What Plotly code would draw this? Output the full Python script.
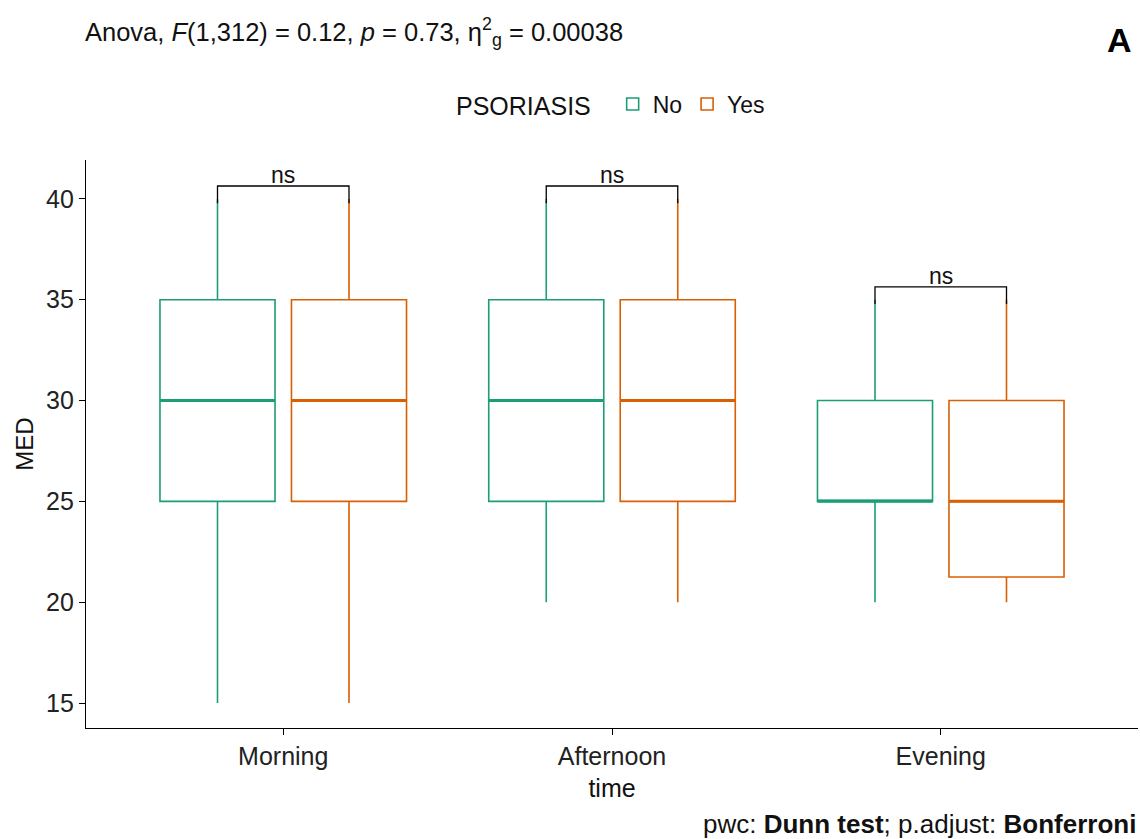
import plotly.graph_objects as go

categories = ["Morning", "Afternoon", "Evening"]
groups = ["No", "Yes"]
colors = {"No": "#1B9E77", "Yes": "#D95F02"}

# box statistics per group, per time
lower = {"No": [15, 20, 20], "Yes": [15, 20, 20]}
q1 = {"No": [25, 25, 25], "Yes": [25, 25, 21.25]}
median = {"No": [30, 30, 25], "Yes": [30, 30, 25]}
q3 = {"No": [35, 35, 30], "Yes": [35, 35, 30]}
upper = {"No": [40, 40, 35], "Yes": [40, 40, 35]}

p_labels = ["ns", "ns", "ns"]

dodge = 0.2
box_w = 0.35
offsets = {"No": -dodge, "Yes": dodge}

FONT = "Liberation Sans, Arial, sans-serif"

fig = go.Figure()
for g in groups:
    xs = [i + 1 + offsets[g] for i in range(len(categories))]
    fig.add_trace(go.Box(
        x=xs, q1=q1[g], median=median[g], q3=q3[g],
        lowerfence=lower[g], upperfence=upper[g],
        width=box_w, whiskerwidth=0,
        name=g, legendgroup=g,
        line=dict(color=colors[g], width=1.6),
        fillcolor="rgba(255,255,255,0)",
        boxpoints=False, hoverinfo="skip",
    ))
    # thicker median segments
    mx, my = [], []
    for x, m in zip(xs, median[g]):
        mx += [x - box_w / 2, x + box_w / 2, None]
        my += [m, m, None]
    fig.add_trace(go.Scatter(x=mx, y=my, mode="lines",
                             line=dict(color=colors[g], width=3),
                             showlegend=False, hoverinfo="skip"))

# significance brackets
step = 0.64
tip = 0.85
bx, by = [], []
for i in range(len(categories)):
    top = max(upper["No"][i], upper["Yes"][i]) + step
    x0 = i + 1 + offsets["No"]
    x1 = i + 1 + offsets["Yes"]
    bx += [x0, x0, x1, x1, None]
    by += [top - tip, top, top, top - tip, None]
    fig.add_annotation(x=i + 1, y=top, text=p_labels[i], showarrow=False,
                       yanchor="bottom", yshift=-4,
                       font=dict(size=23, color="#111", family=FONT))
fig.add_trace(go.Scatter(x=bx, y=by, mode="lines",
                         line=dict(color="black", width=1.3),
                         showlegend=False, hoverinfo="skip"))

fig.update_layout(
    width=1140, height=839,
    margin=dict(l=86, r=2, t=160, b=111),
    paper_bgcolor="white", plot_bgcolor="white",
    font=dict(family=FONT, size=24, color="#111"),
    showlegend=True,
    legend=dict(orientation="h", x=0.5, xanchor="center",
                y=1.0986, yanchor="middle",
                title=dict(text="PSORIASIS  ", font=dict(size=25)),
                font=dict(size=23), itemwidth=30),
    xaxis=dict(range=[0.4, 3.6], tickvals=[1, 2, 3], ticktext=categories,
               showline=True, linecolor="black", linewidth=1.3,
               ticks="outside", ticklen=6, tickcolor="black", tickwidth=1.3,
               showgrid=False, zeroline=False,
               tickfont=dict(size=25, color="#222"),
               title=dict(text="time", font=dict(size=25), standoff=10)),
    yaxis=dict(range=[13.76, 41.93], tickvals=[15, 20, 25, 30, 35, 40],
               showline=True, linecolor="black", linewidth=1.3,
               ticks="outside", ticklen=6, tickcolor="black", tickwidth=1.3,
               showgrid=False, zeroline=False,
               tickfont=dict(size=25, color="#222"),
               title=dict(text="MED", font=dict(size=24), standoff=5)),
)

fig.add_annotation(xref="paper", yref="paper", x=-0.003, y=1.0,
                   yshift=128, xanchor="left", yanchor="middle",
                   text="Anova, <i>F</i>(1,312) = 0.12, <i>p</i> = 0.73, η<sup>2</sup><sub>g</sub> = 0.00038",
                   showarrow=False, font=dict(size=25.5, color="#111", family=FONT))
fig.add_annotation(xref="paper", yref="paper", x=0.996, y=1.0,
                   yshift=120, xanchor="right", yanchor="middle",
                   text="<b>A</b>", showarrow=False,
                   font=dict(size=34, color="black", family=FONT))
fig.add_annotation(xref="paper", yref="paper", x=1.0, y=0.0,
                   yshift=-96, xanchor="right", yanchor="middle",
                   text="pwc: <b>Dunn test</b>; p.adjust: <b>Bonferroni</b>",
                   showarrow=False, font=dict(size=26, color="#111", family=FONT))

fig.write_html("out.html", config={"displayModeBar": False},
               post_script="document.body.style.margin='0';document.body.style.overflow='hidden';")
